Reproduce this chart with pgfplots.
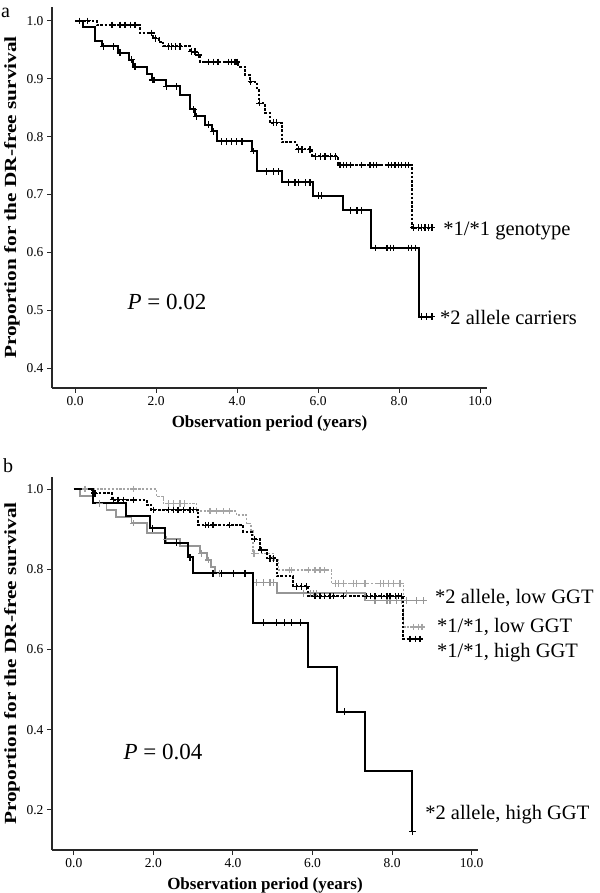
\documentclass[border=0pt]{standalone}
\usepackage{fontspec}
\setmainfont{Liberation Serif}
\usepackage{graphicx}
\usepackage{pgfplots}
\pgfplotsset{compat=1.18}
\definecolor{kmgray}{RGB}{150,150,150}
\definecolor{kmlgray}{RGB}{165,165,165}
\definecolor{axgray}{RGB}{40,40,40}
\pgfplotsset{
  kmaxis/.style={
    scale only axis,
    axis x line=bottom, axis y line=left,
    axis line style={-, line width=1.2bp, axgray},
    tick align=outside, major tick length=5bp,
    tick style={axgray, line width=1bp},
    xtick={0,2,4,6,8,10},
    /pgf/number format/assume math mode=true,
    xticklabel style={font=\fontsize{13.5bp}{15bp}\selectfont, /pgf/number format/.cd, fixed, fixed zerofill, precision=1},
    yticklabel style={font=\fontsize{13.5bp}{15bp}\selectfont, /pgf/number format/.cd, fixed, fixed zerofill, precision=1},
    xlabel style={font=\bfseries\fontsize{17bp}{19bp}\selectfont, yshift=-3bp},
    ylabel style={font=\bfseries\fontsize{17bp}{19bp}\selectfont},
    xlabel={Observation period (years)},
    ylabel={\scalebox{1.25}[1]{Proportion for the DR-free survival}},
    clip=false,
  },
  blk/.style={black, line width=2bp, const plot},
  blkdot/.style={black, line width=2bp, const plot, dash pattern=on 2.6bp off 1.6bp},
  gry/.style={kmgray, line width=1.7bp, const plot},
  grydot/.style={kmlgray, line width=1.4bp, const plot, dash pattern=on 2.2bp off 1.6bp},
  cens/.style={only marks, mark=+, mark size=3.3bp, mark options={line width=1.2bp, solid}},
}
\begin{document}
\begin{tikzpicture}
\useasboundingbox (0,0) rectangle (600bp,893bp);
\node[anchor=base west, inner sep=0, font=\fontsize{20bp}{20bp}\selectfont] at (1bp,875bp) {a};
\node[anchor=base west, inner sep=0, font=\fontsize{20bp}{20bp}\selectfont] at (3bp,420bp) {b};
% ---------------- panel a ----------------
\begin{axis}[kmaxis,
  at={(52bp,505bp)}, anchor=south west,
  width=435bp, height=381bp,
  xmin=-0.57, xmax=10.17, ymin=0.366, ymax=1.024,
  ytick={0.4,0.5,0.6,0.7,0.8,0.9,1.0},
]
% *1/*1 genotype (dotted)
\addplot[blkdot] coordinates {
(0,1.0) (0.53,0.993) (1.60,0.979) (1.93,0.970) (2.06,0.964) (2.18,0.956) (2.84,0.947) (3.00,0.941) (3.09,0.929) (4.03,0.921) (4.20,0.907) (4.32,0.895) (4.49,0.884) (4.53,0.858) (4.69,0.841) (4.81,0.824) (5.10,0.790) (5.47,0.778) (5.84,0.766) (6.48,0.751) (8.31,0.643) (8.83,0.643)};
\addplot[cens, black] coordinates {
(0.11,1.0) (0.30,1.0) (0.91,0.993) (1.11,0.993) (1.23,0.993) (1.36,0.993) (1.48,0.993) (1.89,0.979) (1.98,0.970) (2.30,0.956) (2.39,0.956) (2.47,0.956) (2.59,0.956) (2.88,0.947) (2.96,0.947) (3.04,0.941) (3.29,0.929) (3.41,0.929) (3.53,0.929) (3.79,0.929) (3.87,0.929) (3.95,0.929) (4.00,0.929) (4.34,0.895) (4.56,0.858) (4.90,0.824) (4.98,0.824) (5.51,0.778) (5.60,0.778) (5.80,0.778) (5.93,0.766) (6.05,0.766) (6.17,0.766) (6.30,0.766) (6.42,0.766) (6.54,0.751) (6.62,0.751) (6.70,0.751) (6.79,0.751) (7.08,0.751) (7.28,0.751) (7.37,0.751) (7.44,0.751) (7.74,0.751) (7.82,0.751) (7.90,0.751) (7.98,0.751) (8.06,0.751) (8.15,0.751) (8.23,0.751) (8.36,0.643) (8.48,0.643) (8.56,0.643) (8.64,0.643) (8.72,0.643) (8.81,0.643)};
% *2 allele carriers (solid)
\addplot[blk] coordinates {
(0,1.0) (0.19,0.99) (0.49,0.966) (0.66,0.956) (1.07,0.945) (1.32,0.933) (1.44,0.921) (1.77,0.909) (1.89,0.898) (2.24,0.887) (2.59,0.872) (2.84,0.847) (2.96,0.835) (3.21,0.821) (3.37,0.809) (3.50,0.792) (4.36,0.775) (4.49,0.740) (5.10,0.721) (5.88,0.698) (6.61,0.673) (7.30,0.608) (8.50,0.489) (8.83,0.489)};
\addplot[cens, black] coordinates {
(0.70,0.956) (0.95,0.956) (1.11,0.945) (1.40,0.933) (1.48,0.921) (1.91,0.898) (1.95,0.898) (2.26,0.887) (2.51,0.887) (2.92,0.847) (3.00,0.835) (3.29,0.821) (3.41,0.809) (3.62,0.792) (3.74,0.792) (3.87,0.792) (3.99,0.792) (4.12,0.792) (4.40,0.775) (4.73,0.740) (4.90,0.740) (5.02,0.740) (5.27,0.721) (5.43,0.721) (5.51,0.721) (5.68,0.721) (5.80,0.721) (6.01,0.698) (6.09,0.698) (6.79,0.673) (6.96,0.673) (7.08,0.673) (7.41,0.608) (7.70,0.608) (7.78,0.608) (7.86,0.608) (8.23,0.608) (8.31,0.608) (8.40,0.608) (8.56,0.489) (8.68,0.489) (8.81,0.489)};
\node[anchor=west, inner sep=0, font=\fontsize{20.5bp}{22bp}\selectfont] at (axis cs:9.09,0.638) {*1/*1 genotype};
\node[anchor=west, inner sep=0, font=\fontsize{20.5bp}{22bp}\selectfont] at (axis cs:9.01,0.488) {*2 allele carriers};
\node[inner sep=0, font=\fontsize{23bp}{25bp}\selectfont] at (axis cs:2.27,0.515) {\textit{P} = 0.02};
\end{axis}
% ---------------- panel b ----------------
\begin{axis}[kmaxis,
  at={(52bp,43bp)}, anchor=south west,
  width=426bp, height=373bp,
  xmin=-0.55, xmax=10.16, ymin=0.10, ymax=1.03,
  ytick={0.2,0.4,0.6,0.8,1.0},
]
% *1/*1, low GGT (gray dotted)
\addplot[grydot] coordinates {
(0,1.0) (2.08,0.981) (2.25,0.964) (3.09,0.945) (4.09,0.935) (4.34,0.914) (4.45,0.898) (4.50,0.840) (5.01,0.823) (5.14,0.798) (6.48,0.765) (8.28,0.656) (8.83,0.656)};
\addplot[cens, kmlgray] coordinates {
(0.28,1.0) (1.49,1.0) (2.37,0.964) (2.50,0.964) (2.67,0.964) (2.79,0.964) (3.42,0.945) (3.59,0.945) (3.76,0.945) (3.92,0.945) (4.53,0.840) (5.43,0.798) (5.48,0.798) (5.89,0.798) (6.06,0.798) (6.19,0.798) (6.31,0.798) (6.57,0.765) (6.65,0.765) (6.77,0.765) (7.03,0.765) (7.11,0.765) (7.32,0.765) (7.70,0.765) (7.78,0.765) (7.91,0.765) (8.03,0.765) (8.20,0.765) (8.54,0.656) (8.66,0.656) (8.75,0.656)};
% *2 allele, low GGT (gray solid)
\addplot[gry] coordinates {
(0,1.0) (0.15,0.983) (0.49,0.964) (0.82,0.948) (1.06,0.930) (1.45,0.915) (1.83,0.890) (2.29,0.875) (2.67,0.858) (3.17,0.840) (3.34,0.823) (3.44,0.806) (3.55,0.790) (4.51,0.767) (5.10,0.740) (7.32,0.722) (8.83,0.722)};
\addplot[cens, kmgray] coordinates {
(0.65,0.964) (1.49,0.915) (2.33,0.875) (3.21,0.840) (3.38,0.823) (3.67,0.790) (4.60,0.767) (4.76,0.767) (4.93,0.767) (5.01,0.767) (5.77,0.740) (5.94,0.740) (6.02,0.740) (6.10,0.740) (6.86,0.740) (7.57,0.722) (7.87,0.722) (7.95,0.722) (8.12,0.722) (8.24,0.722) (8.37,0.722) (8.62,0.722) (8.79,0.722)};
% *1/*1, high GGT (black dotted)
\addplot[blkdot] coordinates {
(0,1.0) (0.45,0.989) (0.97,0.973) (1.83,0.960) (1.95,0.948) (3.13,0.910) (4.26,0.894) (4.47,0.875) (4.68,0.848) (4.85,0.827) (5.10,0.782) (5.52,0.757) (5.89,0.733) (8.28,0.626) (8.75,0.626)};
\addplot[cens, black] coordinates {
(0.53,0.989) (0.99,0.973) (1.11,0.973) (1.24,0.973) (1.49,0.973) (2.00,0.948) (2.37,0.948) (2.50,0.948) (2.62,0.948) (2.75,0.948) (2.92,0.948) (3.00,0.948) (3.30,0.910) (3.38,0.910) (3.50,0.910) (3.92,0.910) (4.55,0.875) (4.72,0.848) (4.93,0.827) (5.01,0.827) (5.60,0.757) (5.73,0.757) (5.85,0.757) (6.06,0.733) (6.19,0.733) (6.31,0.733) (6.44,0.733) (6.52,0.733) (6.77,0.733) (7.36,0.733) (7.45,0.733) (7.57,0.733) (7.74,0.733) (7.87,0.733) (7.95,0.733) (8.08,0.733) (8.16,0.733) (8.24,0.733) (8.45,0.626) (8.58,0.626) (8.70,0.626)};
% *2 allele, high GGT (black solid)
\addplot[blk] coordinates {
(0,1.0) (0.49,0.966) (1.31,0.933) (1.91,0.902) (2.29,0.866) (2.87,0.830) (2.99,0.790) (4.51,0.667) (5.89,0.557) (6.61,0.445) (7.32,0.296) (8.51,0.146)};
\addplot[cens, black] coordinates {
(1.97,0.902) (2.58,0.866) (2.92,0.830) (3.50,0.790) (3.72,0.790) (4.01,0.790) (4.30,0.790) (4.76,0.667) (5.10,0.667) (5.30,0.667) (5.48,0.667) (5.69,0.667) (6.80,0.445) (8.51,0.146)};
\node[anchor=west, inner sep=0, font=\fontsize{20.5bp}{22bp}\selectfont] at (axis cs:9.08,0.729) {*2 allele, low GGT};
\node[anchor=west, inner sep=0, font=\fontsize{20.5bp}{22bp}\selectfont] at (axis cs:9.13,0.656) {*1/*1, low GGT};
\node[anchor=west, inner sep=0, font=\fontsize{20.5bp}{22bp}\selectfont] at (axis cs:9.13,0.592) {*1/*1, high GGT};
\node[anchor=west, inner sep=0, font=\fontsize{20.5bp}{22bp}\selectfont] at (axis cs:8.83,0.188) {*2 allele, high GGT};
\node[inner sep=0, font=\fontsize{23bp}{25bp}\selectfont] at (axis cs:2.24,0.345) {\textit{P} = 0.04};
\end{axis}
\end{tikzpicture}
\end{document}
